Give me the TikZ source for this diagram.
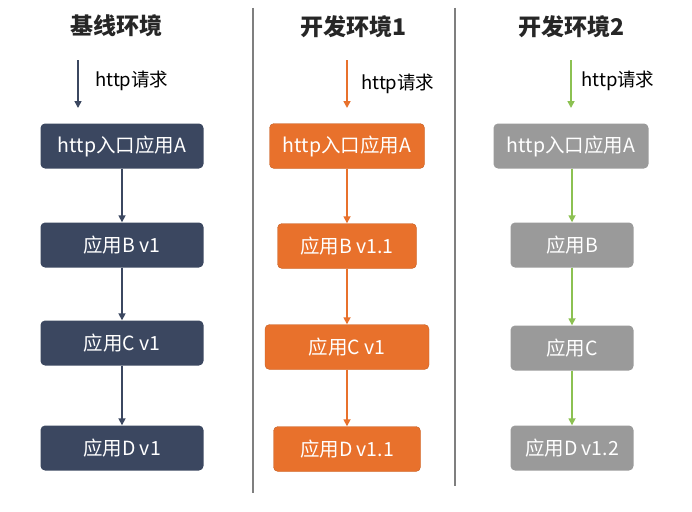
\documentclass[tikz,border=0pt]{standalone}
\usepackage{fontspec}
\setmainfont{Noto Sans CJK SC}
\usetikzlibrary{arrows.meta}
\definecolor{navy}{HTML}{3B4760}
\definecolor{orng}{HTML}{E8712C}
\definecolor{grey}{HTML}{9A9A9A}
\definecolor{leaf}{HTML}{8CC152}
\definecolor{rule}{HTML}{7F7F7F}
\tikzset{app/.style={rounded corners=1.6mm,align=center,text=white,font=\fontsize{19.5}{22}\selectfont,minimum height=45pt,inner sep=0pt},flow/.style={-{Triangle[length=7pt,width=7pt]},line width=1.6pt},head/.style={font=\fontsize{23}{27}\selectfont\bfseries,text=black!85},note/.style={anchor=west,font=\fontsize{18.5}{21}\selectfont,text=black,inner sep=0pt}}
\begin{document}
\begin{tikzpicture}[x=1pt,y=-1pt]
\useasboundingbox[fill=white] (0,0) rectangle (692,511);
\draw[line width=2.2pt,draw=rule] (253,8)--(253,493);
\draw[line width=2.2pt,draw=rule] (455,8)--(455,486);
% 基线环境
\node[head] (t1) at (116,26) {基线环境};
\coordinate (s1) at (78,60);\coordinate (e1) at (78,108);
\node[note] (h1) at (95,81) {http请求};
\node[app,fill=navy,minimum width=163pt] (a1) at (122,146) {http入口应用A};
\node[app,fill=navy,minimum width=163pt] (b1) at (122,245) {应用B v1};
\node[app,fill=navy,minimum width=163pt] (c1) at (122,343) {应用C v1};
\node[app,fill=navy,minimum width=163pt] (d1) at (122,448) {应用D v1};
\draw[flow,draw=navy,fill=navy](s1)--(e1);
\draw[flow,draw=navy,fill=navy](a1)--(b1);\draw[flow,draw=navy,fill=navy](b1)--(c1);\draw[flow,draw=navy,fill=navy](c1)--(d1);
% 开发环境1
\node[head] (t2) at (353,27) {开发环境1};
\coordinate (s2) at (347,60);\coordinate (e2) at (347,108);
\node[note] (h2) at (361,84) {http请求};
\node[app,fill=orng,draw=orng!85!black,minimum width=155pt] (a2) at (347,146) {http入口应用A};
\node[app,fill=orng,draw=orng!85!black,minimum width=139pt] (b2) at (347,246) {应用B v1.1};
\node[app,fill=orng,draw=orng!85!black,minimum width=164pt] (c2) at (347,347) {应用C v1};
\node[app,fill=orng,draw=orng!85!black,minimum width=147pt] (d2) at (347,449) {应用D v1.1};
\draw[flow,draw=orng,fill=orng](s2)--(e2);
\draw[flow,draw=orng,fill=orng](a2)--(b2);\draw[flow,draw=orng,fill=orng](b2)--(c2);\draw[flow,draw=orng,fill=orng](c2)--(d2);
% 开发环境2
\node[head] (t3) at (571,27) {开发环境2};
\coordinate (s3) at (571,60);\coordinate (e3) at (571,108);
\node[note] (h3) at (581,81) {http请求};
\node[app,fill=grey,minimum width=155pt] (a3) at (571,146) {http入口应用A};
\node[app,fill=grey,minimum width=123pt] (b3) at (572,245) {应用B};
\node[app,fill=grey,minimum width=123pt] (c3) at (572,348) {应用C};
\node[app,fill=grey,minimum width=123pt] (d3) at (572,448) {应用D v1.2};
\draw[flow,draw=leaf,fill=leaf](s3)--(e3);
\draw[flow,draw=leaf,fill=leaf](a3.south-|b3)--(b3);\draw[flow,draw=leaf,fill=leaf](b3)--(c3);\draw[flow,draw=leaf,fill=leaf](c3)--(d3);
\end{tikzpicture}
\end{document}
